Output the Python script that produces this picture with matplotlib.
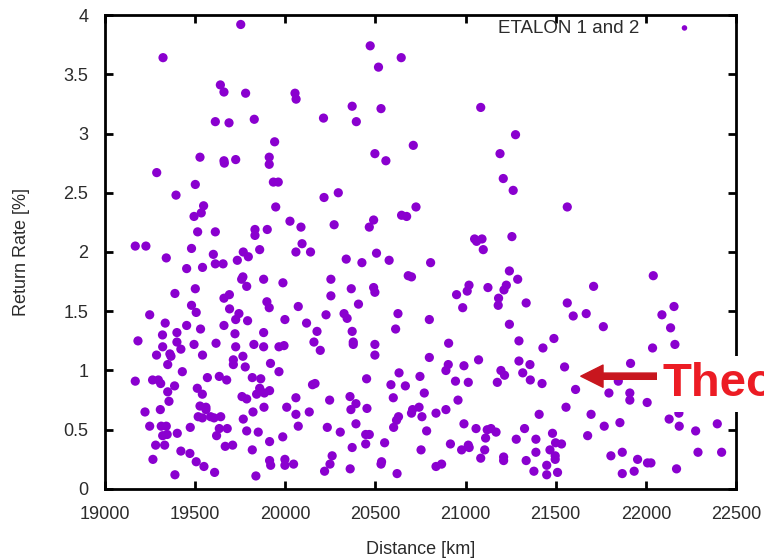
import matplotlib
matplotlib.use("Agg")
import matplotlib.pyplot as plt

plt.rcParams['font.family'] = ['Liberation Sans', 'DejaVu Sans']

# ETALON 1 and 2 – distance [km] vs return rate [%]
dist = [
    19753, 19322, 19640, 19660, 19780, 19612, 19688, 19527, 19660, 19662, 19725, 19287,
    20471, 20643, 20517, 20054, 20060, 19828, 20212, 20371, 20531, 20394, 19941, 19911,
    19911, 20497, 20558, 20710,
    21084, 21277, 21191,
    19501, 19394, 19547, 19534, 19494, 19514, 19612, 19168, 19227, 19480, 19340, 19601,
    19612, 19655, 19734, 19767, 19795, 19453, 19541, 19758, 19765, 19786, 19501, 19388,
    19660, 19690, 19480, 19506, 19691, 19743, 19725, 19791, 19248, 19334, 19453, 19530,
    19660, 19399, 19721, 19319,
    19934, 19961, 20215, 20294, 19947, 20026, 20087, 20271, 20490, 20466, 20645, 20673,
    19832, 19832, 19900, 19858, 20093, 20059, 20140, 20338, 20425, 20506, 20576, 20682,
    20700, 19880, 19987, 20253, 20366, 20490, 20497, 20253, 19898, 19911, 20072, 20406,
    20226, 20326, 20343, 20625, 19998, 20118, 19880, 20176, 20371, 20612,
    21209, 21264, 20725, 21564, 21050, 21061, 21091, 21098, 21257, 20806, 21243, 21289,
    21019, 21009, 20950, 21124, 21226, 21213, 21183, 21181, 21336, 20984, 21564, 21597,
    20799, 21243,
    22041, 21710, 22156, 21669, 22089, 21764, 22137,
    19183, 19320, 19399, 19421, 19494, 19616, 19725, 19286, 19360, 19366, 19348, 19541,
    19765, 19712, 19712, 19778, 19429, 19168, 19264, 19296, 19309, 19386, 19348, 19568,
    19634, 19675, 19512, 19540, 19355, 19760, 19786, 19222, 19307, 19527, 19560, 19560,
    19517, 19540, 19586, 19605, 19642, 19767, 19248, 19312, 19340, 19320, 19345, 19401,
    19473, 19634, 19678, 19619, 19786, 19281, 19331, 19667, 19708, 19421, 19471, 19266,
    19506, 19549, 19608, 19388,
    19826, 19880, 19965, 19993, 20159, 20194, 20377, 20377, 20497, 20497, 19918, 19965,
    19817, 19864, 19858, 19841, 19884, 19913, 20151, 20165, 20451, 20631, 20586, 20666,
    20599, 20059, 20246, 20359, 20392, 20364, 20453, 19821, 19882, 20008, 20059, 20133,
    20072, 20233, 20305, 20392, 20628, 20617, 20601, 20700, 20706, 19850, 19986, 19913,
    20446, 20466, 20446, 20551, 20371, 19817, 19913, 19919, 19998, 19998, 20046, 20260,
    20248, 20218, 20360, 20534, 20531, 20620, 19837,
    20906, 20799, 20904, 20891, 20991, 21072, 21296, 21490, 21429, 21296, 21357, 21196,
    21216, 21317, 20747, 20944, 21015, 21176, 21359, 21424, 21549, 21610, 20771, 20958,
    20742, 20758, 20836, 20891, 21408, 21557, 20784, 20991, 21058, 21120, 21141, 21169,
    21111, 21327, 21281, 21390, 21482, 20916, 21015, 21020, 20978, 21106, 20753, 21499,
    21532, 21468, 21390, 21497, 21497, 21084, 21211, 21211, 21336, 20836, 20867, 21450,
    21379, 21450, 21510,
    22037, 22161, 21915, 21847, 21795, 21911, 21911, 22007, 21696, 21856, 21769, 21677,
    22129, 22183, 22185, 22276, 22396, 21806, 21869, 21954, 22009, 22028, 21869, 21935,
    22170, 22289, 22420,
]
rate = [
    3.92, 3.64, 3.41, 3.35, 3.34, 3.10, 3.09, 2.80, 2.77, 2.75, 2.78, 2.67,
    3.74, 3.64, 3.56, 3.34, 3.29, 3.12, 3.13, 3.23, 3.21, 3.10, 2.93, 2.80,
    2.74, 2.83, 2.77, 2.90,
    3.22, 2.99, 2.83,
    2.57, 2.48, 2.39, 2.33, 2.30, 2.17, 2.17, 2.05, 2.05, 2.03, 1.95, 1.98,
    1.90, 1.90, 1.93, 2.00, 1.96, 1.86, 1.87, 1.77, 1.79, 1.71, 1.69, 1.65,
    1.61, 1.64, 1.55, 1.49, 1.52, 1.48, 1.43, 1.42, 1.47, 1.40, 1.38, 1.35,
    1.38, 1.32, 1.31, 1.30,
    2.59, 2.59, 2.46, 2.50, 2.38, 2.26, 2.21, 2.23, 2.27, 2.21, 2.31, 2.30,
    2.19, 2.14, 2.19, 2.02, 2.07, 2.00, 2.00, 1.94, 1.91, 1.99, 1.93, 1.80,
    1.79, 1.77, 1.74, 1.77, 1.69, 1.70, 1.66, 1.63, 1.58, 1.53, 1.54, 1.56,
    1.47, 1.48, 1.44, 1.48, 1.43, 1.40, 1.32, 1.33, 1.33, 1.35,
    2.62, 2.52, 2.38, 2.38, 2.11, 2.09, 2.11, 2.02, 2.13, 1.91, 1.84, 1.77,
    1.72, 1.67, 1.64, 1.70, 1.72, 1.68, 1.61, 1.55, 1.57, 1.53, 1.57, 1.46,
    1.43, 1.39,
    1.80, 1.71, 1.54, 1.48, 1.47, 1.37, 1.36,
    1.25, 1.20, 1.24, 1.18, 1.22, 1.23, 1.20, 1.13, 1.14, 1.12, 1.05, 1.13,
    1.12, 1.09, 1.05, 1.03, 0.99, 0.91, 0.92, 0.92, 0.89, 0.87, 0.82, 0.94,
    0.95, 0.92, 0.85, 0.80, 0.74, 0.78, 0.76, 0.65, 0.67, 0.70, 0.69, 0.67,
    0.61, 0.60, 0.61, 0.60, 0.61, 0.59, 0.53, 0.53, 0.53, 0.45, 0.46, 0.47,
    0.52, 0.51, 0.51, 0.45, 0.49, 0.37, 0.37, 0.36, 0.37, 0.32, 0.30, 0.25,
    0.23, 0.19, 0.14, 0.12,
    1.22, 1.20, 1.20, 1.21, 1.24, 1.17, 1.24, 1.22, 1.22, 1.13, 1.06, 0.99,
    0.94, 0.93, 0.85, 0.80, 0.81, 0.83, 0.88, 0.89, 0.93, 0.98, 0.88, 0.87,
    0.77, 0.77, 0.75, 0.78, 0.72, 0.67, 0.68, 0.65, 0.69, 0.69, 0.63, 0.65,
    0.53, 0.52, 0.48, 0.55, 0.61, 0.58, 0.52, 0.64, 0.67, 0.48, 0.44, 0.40,
    0.46, 0.46, 0.38, 0.39, 0.35, 0.33, 0.24, 0.20, 0.25, 0.20, 0.21, 0.28,
    0.21, 0.15, 0.17, 0.23, 0.21, 0.13, 0.11,
    1.23, 1.11, 1.05, 1.00, 1.04, 1.09, 1.25, 1.27, 1.19, 1.08, 1.05, 1.00,
    0.96, 0.98, 0.95, 0.91, 0.90, 0.90, 0.92, 0.89, 1.03, 0.84, 0.81, 0.75,
    0.69, 0.61, 0.64, 0.67, 0.63, 0.69, 0.49, 0.55, 0.51, 0.50, 0.51, 0.48,
    0.43, 0.51, 0.42, 0.42, 0.47, 0.38, 0.37, 0.35, 0.33, 0.33, 0.33, 0.39,
    0.38, 0.33, 0.31, 0.28, 0.25, 0.26, 0.27, 0.24, 0.24, 0.19, 0.21, 0.20,
    0.15, 0.12, 0.14,
    1.19, 1.22, 1.06, 0.91, 0.81, 0.81, 0.75, 0.73, 0.63, 0.56, 0.53, 0.45,
    0.59, 0.64, 0.53, 0.49, 0.55, 0.28, 0.31, 0.25, 0.22, 0.22, 0.13, 0.15,
    0.17, 0.31, 0.31,
]

xticks = [19000, 19500, 20000, 20500, 21000, 21500, 22000, 22500]
yticks = [0, 0.5, 1, 1.5, 2, 2.5, 3, 3.5, 4]
ytick_labels = ['0', '0.5', '1', '1.5', '2', '2.5', '3', '3.5', '4']

fig = plt.figure(figsize=(7.64, 5.6), dpi=100)
ax = fig.add_axes([0.1374, 0.1268, 0.8260, 0.8464])

ax.scatter(dist, rate, s=44, color='#8a00cf', edgecolors='none',
           label='ETALON 1 and 2', zorder=3)

ax.set_xlim(19000, 22500)
ax.set_ylim(0, 4)
ax.set_xticks(xticks)
ax.set_xticklabels([str(t) for t in xticks])
ax.set_yticks(yticks)
ax.set_yticklabels(ytick_labels)

for sp in ax.spines.values():
    sp.set_linewidth(2)
    sp.set_color('black')
ax.tick_params(direction='in', length=6, width=2, top=True, right=True,
               labelsize=13, labelcolor='#2b2b2b')
ax.tick_params(axis='x', pad=12)
ax.tick_params(axis='y', pad=12)

ax.set_xlabel('Distance [km]', fontsize=13, color='#2b2b2b', labelpad=13)
ax.set_ylabel('Return Rate [%]', fontsize=13, color='#2b2b2b', labelpad=24)

ax.legend(loc='upper right', bbox_to_anchor=(0.948, 0.99), frameon=False,
          markerfirst=False, fontsize=13.5, handletextpad=1.4, markerscale=0.6,
          borderaxespad=0, borderpad=0, labelcolor='#2b2b2b')

# red arrow with the label running off the right edge, as in the original
ax.annotate('', xy=(0.754, 0.238), xytext=(0.882, 0.238),
            xycoords='axes fraction', textcoords='axes fraction',
            arrowprops=dict(width=4.5, headwidth=16, headlength=16,
                            color='#c8161e', shrink=0))
ax.text(0.883, 0.196, 'Theory', transform=ax.transAxes, ha='left', va='baseline',
        fontsize=34, fontweight='bold', color='#ec1c24', zorder=5,
        bbox=dict(facecolor='white', edgecolor='none', pad=4))

fig.savefig('out.png', dpi=100)
